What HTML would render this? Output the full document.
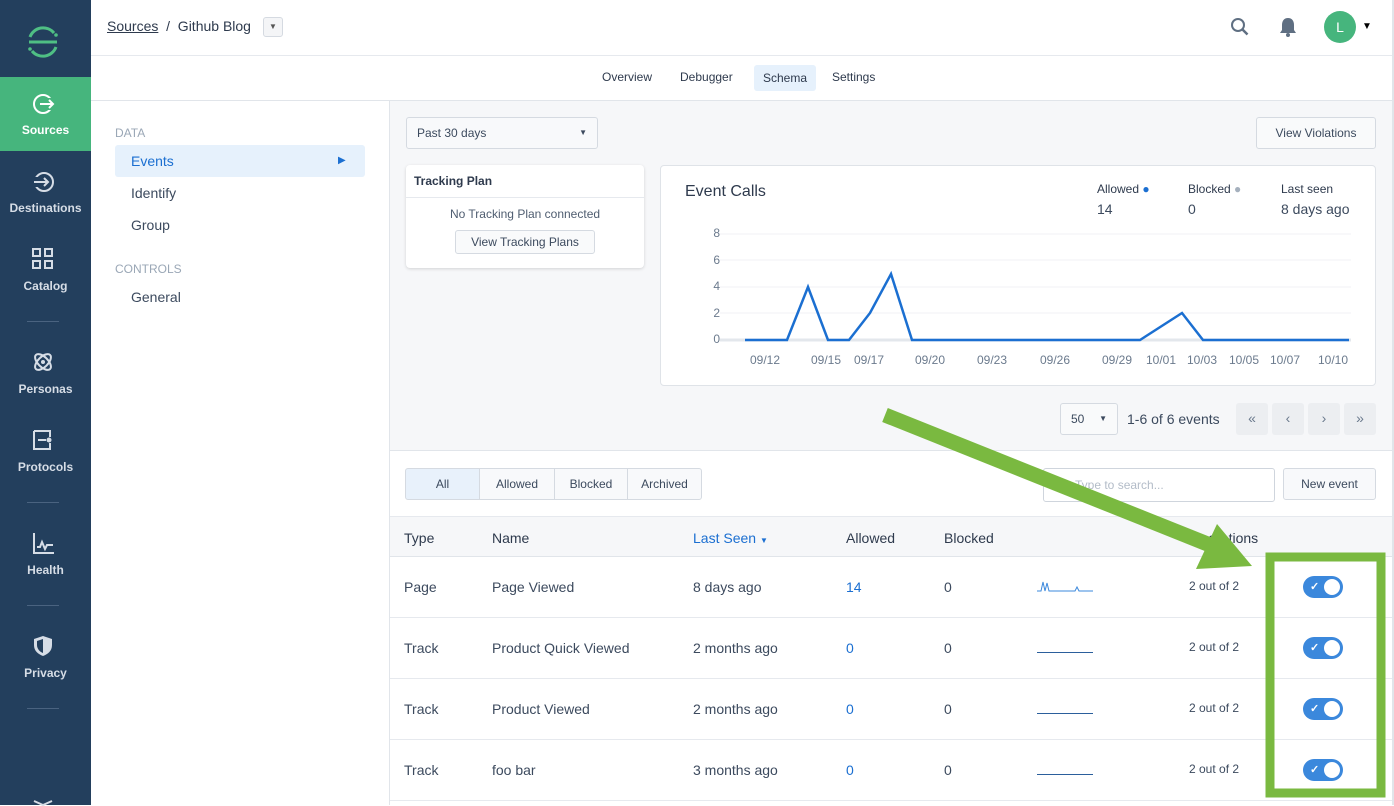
<!DOCTYPE html>
<html><head><meta charset="utf-8"><style>
*{box-sizing:border-box;margin:0;padding:0}
body{width:1394px;height:805px;overflow:hidden;position:relative;font-family:"Liberation Sans",sans-serif;color:#3c4a5e;background:#fff;font-size:14px}
.a{position:absolute}
.nav{left:0;top:0;width:91px;height:805px;background:#233f5d}
.ni{position:absolute;left:0;width:91px;text-align:center;color:#d6dde6;font-size:12px;font-weight:bold}
.sep{position:absolute;left:27px;width:32px;height:1px;background:#4a6380}
.btn{position:absolute;border:1px solid #d5dae1;border-radius:3px;background:#f8f9fb;font-size:12px;color:#3c4a5e;text-align:center}
.hd{position:absolute;top:530px;font-size:14px;color:#2e3a4d}
.row{position:absolute;left:390px;width:1002px;height:61px;border-bottom:1px solid #e6e9ee}
.row span{position:absolute;top:22px;font-size:14px;color:#3c4a5e}
.tg{position:absolute;left:913px;top:19px;width:40px;height:22px;border-radius:11px;background:#3b88dc}
.tg:after{content:"";position:absolute;right:3px;top:3px;width:16px;height:16px;border-radius:50%;background:#fff}
.tg i{position:absolute;left:7px;top:4px;color:#fff;font-style:normal;font-size:11px;font-weight:bold}
.yl{position:absolute;left:700px;font-size:12px;color:#6b7a8d;width:20px;text-align:right}
.xl{position:absolute;top:353px;font-size:12px;color:#6b7a8d}
</style></head><body>
<div class="a nav">
 <svg class="a" style="left:26px;top:25px" width="34" height="34" viewBox="0 0 34 34"><path d="M4 12 A14 14 0 0 1 28 8" stroke="#4fbf84" stroke-width="3" fill="none"/><path d="M30 22 A14 14 0 0 1 6 26" stroke="#4fbf84" stroke-width="3" fill="none"/><rect x="3" y="15.5" width="28" height="3" fill="#4fbf84"/><circle cx="30" cy="10" r="1.8" fill="#4fbf84"/><circle cx="4" cy="24" r="1.8" fill="#4fbf84"/></svg>
 <div class="a" style="left:0;top:77px;width:91px;height:74px;background:#46b57d"></div>
 <svg class="a" style="left:32px;top:92px" width="24" height="24"><circle cx="11" cy="12" r="9" stroke="#fff" stroke-width="2" fill="none"/><rect x="14" y="6" width="8" height="12" fill="#46b57d"/><path d="M8 12h13M17 8l4 4-4 4" stroke="#fff" stroke-width="2" fill="none"/></svg>
 <div class="ni" style="top:123px;color:#fff">Sources</div>
 <svg class="a" style="left:32px;top:170px" width="24" height="24"><circle cx="12" cy="12" r="9" stroke="#d6dde6" stroke-width="2" fill="none"/><rect x="0" y="7" width="6" height="10" fill="#233f5d"/><path d="M2 12h13M12 8l4 4-4 4" stroke="#d6dde6" stroke-width="2" fill="none"/></svg>
 <div class="ni" style="top:201px">Destinations</div>
 <svg class="a" style="left:32px;top:248px" width="22" height="22"><g fill="none" stroke="#d6dde6" stroke-width="2"><rect x="1" y="1" width="7" height="7"/><rect x="13" y="1" width="7" height="7"/><rect x="1" y="13" width="7" height="7"/><rect x="13" y="13" width="7" height="7"/></g></svg>
 <div class="ni" style="top:279px">Catalog</div>
 <div class="sep" style="top:321px"></div>
 <svg class="a" style="left:32px;top:351px" width="22" height="22"><g fill="none" stroke="#d6dde6" stroke-width="2"><ellipse cx="11" cy="11" rx="10" ry="5" transform="rotate(45 11 11)"/><ellipse cx="11" cy="11" rx="10" ry="5" transform="rotate(-45 11 11)"/></g><circle cx="11" cy="11" r="2" fill="#d6dde6"/></svg>
 <div class="ni" style="top:382px">Personas</div>
 <svg class="a" style="left:32px;top:429px" width="22" height="22"><path d="M2 2h16v6M2 2v18h16v-6M6 11h8" fill="none" stroke="#d6dde6" stroke-width="2"/><circle cx="17" cy="11" r="2.5" fill="#d6dde6"/></svg>
 <div class="ni" style="top:460px">Protocols</div>
 <div class="sep" style="top:502px"></div>
 <svg class="a" style="left:32px;top:532px" width="22" height="22"><path d="M2 1v20h20M5 15h3l2-5 3 7 2-4h6" fill="none" stroke="#d6dde6" stroke-width="2"/></svg>
 <div class="ni" style="top:563px">Health</div>
 <div class="sep" style="top:605px"></div>
 <svg class="a" style="left:33px;top:635px" width="20" height="22"><path d="M10 1L1 4v6c0 6 4 9 9 11 5-2 9-5 9-11V4z" fill="#d6dde6"/><path d="M10 4v14c-3-1-6-4-6-8V6z" fill="#233f5d"/></svg>
 <div class="ni" style="top:666px">Privacy</div>
 <div class="sep" style="top:708px"></div>
 <svg class="a" style="left:33px;top:800px" width="20" height="6"><path d="M1 1l9 4 9-4" stroke="#d6dde6" stroke-width="2" fill="none"/></svg>
</div>
<!-- header -->
<div class="a" style="left:107px;top:18px;font-size:14px;color:#2e3a4d"><u>Sources</u>&nbsp; / &nbsp;Github Blog</div>
<div class="a" style="left:263px;top:17px;width:20px;height:20px;border:1px solid #d5dae1;border-radius:3px;background:#f4f5f7;font-size:8px;text-align:center;line-height:18px;color:#555">▼</div>
<svg class="a" style="left:1230px;top:17px" width="20" height="20"><circle cx="8" cy="8" r="6" stroke="#5f6f82" stroke-width="2" fill="none"/><path d="M12.5 12.5l5 5" stroke="#5f6f82" stroke-width="2.5"/></svg>
<svg class="a" style="left:1279px;top:16px" width="18" height="22"><path d="M9 2c-4 0-6 3-6 7v5l-2 3h16l-2-3V9c0-4-2-7-6-7z" fill="#5f6f82"/><circle cx="9" cy="19" r="2" fill="#5f6f82"/></svg>
<div class="a" style="left:1324px;top:11px;width:32px;height:32px;border-radius:50%;background:#46b57d;color:#fff;text-align:center;line-height:32px;font-size:14px">L</div>
<div class="a" style="left:1362px;top:21px;font-size:10px;color:#000">▼</div>
<div class="a" style="left:91px;top:55px;width:1303px;height:1px;background:#e6e9ee"></div>
<div class="a" style="left:602px;top:70px;font-size:12px;color:#2e3a4d">Overview</div>
<div class="a" style="left:680px;top:70px;font-size:12px;color:#2e3a4d">Debugger</div>
<div class="a" style="left:754px;top:65px;width:62px;height:26px;background:#e6f1fc;border-radius:3px;font-size:12px;color:#2e3a4d;text-align:center;line-height:26px">Schema</div>
<div class="a" style="left:832px;top:70px;font-size:12px;color:#2e3a4d">Settings</div>
<div class="a" style="left:91px;top:100px;width:1303px;height:1px;background:#e1e5ea"></div>
<!-- left subnav -->
<div class="a" style="left:115px;top:126px;font-size:12px;color:#9aa7b6">DATA</div>
<div class="a" style="left:115px;top:145px;width:250px;height:32px;background:#e6f1fc;border-radius:3px"></div>
<div class="a" style="left:131px;top:153px;color:#1b6fd1">Events</div>
<div class="a" style="left:338px;top:155px;color:#1b6fd1;font-size:10px">▶</div>
<div class="a" style="left:131px;top:185px">Identify</div>
<div class="a" style="left:131px;top:217px">Group</div>
<div class="a" style="left:115px;top:262px;font-size:12px;color:#9aa7b6">CONTROLS</div>
<div class="a" style="left:131px;top:289px">General</div>
<div class="a" style="left:389px;top:101px;width:1px;height:704px;background:#e1e5ea"></div>
<div class="a" style="left:1392px;top:0;width:2px;height:805px;background:#e1e5ea"></div>
<!-- grey area -->
<div class="a" style="left:390px;top:101px;width:1002px;height:350px;background:#f6f7f9;border-bottom:1px solid #e1e5ea"></div>
<div class="btn" style="left:406px;top:117px;width:192px;height:32px;text-align:left;padding:8px 10px;color:#3c4a5e">Past 30 days<span style="position:absolute;right:10px;top:10px;font-size:8px">▼</span></div>
<div class="btn" style="left:1256px;top:117px;width:120px;height:32px;line-height:30px;background:#f9fafb">View Violations</div>
<div class="a" style="left:406px;top:165px;width:238px;height:103px;background:#fff;border-radius:4px;box-shadow:0 1px 3px rgba(0,0,0,.15)"></div>
<div class="a" style="left:414px;top:174px;font-size:12px;font-weight:bold;color:#2e3a4d">Tracking Plan</div>
<div class="a" style="left:406px;top:197px;width:238px;height:1px;background:#e6e9ee"></div>
<div class="a" style="left:406px;top:207px;width:238px;text-align:center;font-size:12px;color:#4f5d70">No Tracking Plan connected</div>
<div class="btn" style="left:455px;top:230px;width:140px;height:24px;line-height:22px;background:#f9fafb">View Tracking Plans</div>
<!-- chart card -->
<div class="a" style="left:660px;top:165px;width:716px;height:221px;background:#fff;border:1px solid #dfe3e8;border-radius:4px"></div>
<div class="a" style="left:685px;top:183px;font-size:16px;color:#2e3a4d">Event Calls</div>
<div class="a" style="left:1097px;top:182px;font-size:12px;color:#2e3a4d">Allowed <span style="color:#1b6fd1">●</span></div>
<div class="a" style="left:1097px;top:201px;font-size:14px">14</div>
<div class="a" style="left:1188px;top:182px;font-size:12px;color:#2e3a4d">Blocked <span style="color:#a5b0bd">●</span></div>
<div class="a" style="left:1188px;top:201px;font-size:14px">0</div>
<div class="a" style="left:1281px;top:182px;font-size:12px;color:#2e3a4d">Last seen</div>
<div class="a" style="left:1281px;top:201px;font-size:14px">8 days ago</div>
<div class="yl" style="top:226px">8</div><div class="yl" style="top:253px">6</div><div class="yl" style="top:279px">4</div><div class="yl" style="top:306px">2</div><div class="yl" style="top:332px">0</div>
<svg class="a" style="left:0;top:0" width="1394" height="400">
<g stroke="#f0f2f5"><line x1="720" y1="234" x2="1351" y2="234"/><line x1="720" y1="260" x2="1351" y2="260"/><line x1="720" y1="287" x2="1351" y2="287"/><line x1="720" y1="313" x2="1351" y2="313"/></g>
<line x1="720" y1="340" x2="1351" y2="340" stroke="#e3e7ec" stroke-width="3"/>
<polyline points="745,340 787,340 808,287 828,340 849,340 870,313 891,274 912,340 1140,340 1182,313 1203,340 1349,340" fill="none" stroke="#1b6fd1" stroke-width="2.5" stroke-linejoin="miter"/>
</svg>
<div class="xl" style="left:750px">09/12</div><div class="xl" style="left:811px">09/15</div><div class="xl" style="left:854px">09/17</div><div class="xl" style="left:915px">09/20</div><div class="xl" style="left:977px">09/23</div><div class="xl" style="left:1040px">09/26</div><div class="xl" style="left:1102px">09/29</div><div class="xl" style="left:1146px">10/01</div><div class="xl" style="left:1187px">10/03</div><div class="xl" style="left:1229px">10/05</div><div class="xl" style="left:1270px">10/07</div><div class="xl" style="left:1318px">10/10</div>
<!-- pagination -->
<div class="btn" style="left:1060px;top:403px;width:58px;height:32px;text-align:left;padding:8px 10px;background:#f9fafb">50<span style="position:absolute;right:10px;top:10px;font-size:8px">▼</span></div>
<div class="a" style="left:1127px;top:411px;font-size:14px">1-6 of 6 events</div>
<div class="a" style="left:1236px;top:403px;width:32px;height:32px;background:#eceef1;border-radius:3px;text-align:center;line-height:30px;color:#6b7a8d">«</div>
<div class="a" style="left:1272px;top:403px;width:32px;height:32px;background:#eceef1;border-radius:3px;text-align:center;line-height:30px;color:#6b7a8d">‹</div>
<div class="a" style="left:1308px;top:403px;width:32px;height:32px;background:#eceef1;border-radius:3px;text-align:center;line-height:30px;color:#6b7a8d">›</div>
<div class="a" style="left:1344px;top:403px;width:32px;height:32px;background:#eceef1;border-radius:3px;text-align:center;line-height:30px;color:#6b7a8d">»</div>
<!-- filters -->
<div class="btn" style="left:405px;top:468px;width:75px;height:32px;line-height:30px;background:#e8f1fb;border-radius:3px 0 0 3px">All</div>
<div class="btn" style="left:479px;top:468px;width:76px;height:32px;line-height:30px;border-radius:0">Allowed</div>
<div class="btn" style="left:554px;top:468px;width:74px;height:32px;line-height:30px;border-radius:0">Blocked</div>
<div class="btn" style="left:627px;top:468px;width:75px;height:32px;line-height:30px;border-radius:0 3px 3px 0">Archived</div>
<div class="a" style="left:1043px;top:468px;width:232px;height:34px;border:1px solid #cfd5dd;border-radius:3px;background:#fff"></div>
<div class="a" style="left:1075px;top:478px;font-size:12px;color:#b3bcc8">Type to search...</div>
<div class="btn" style="left:1283px;top:468px;width:93px;height:32px;line-height:30px">New event</div>
<!-- table header -->
<div class="a" style="left:390px;top:516px;width:1002px;height:41px;background:#f6f7f9;border-top:1px solid #e6e9ee;border-bottom:1px solid #e1e5ea"></div>
<div class="hd" style="left:404px">Type</div><div class="hd" style="left:492px">Name</div>
<div class="hd" style="left:693px;color:#1b6fd1">Last Seen <span style="font-size:8px">▼</span></div>
<div class="hd" style="left:846px">Allowed</div><div class="hd" style="left:944px">Blocked</div><div class="hd" style="left:1185px">Integrations</div>
<div class="row" style="top:557px"><span style="left:14px">Page</span><span style="left:102px">Page Viewed</span><span style="left:303px">8 days ago</span><span style="left:456px;color:#1b6fd1">14</span><span style="left:554px">0</span>
<svg style="position:absolute;left:647px;top:20px" width="58" height="16"><polyline points="0,14 4,14 6,5 8,14 10,6 12,14 38,14 40,10 42,14 56,14" fill="none" stroke="#3b88dc" stroke-width="1"/></svg><span style="left:799px;font-size:12px">2 out of 2</span><div class="tg"><i>✓</i></div></div>
<div class="row" style="top:618px"><span style="left:14px">Track</span><span style="left:102px">Product Quick Viewed</span><span style="left:303px">2 months ago</span><span style="left:456px;color:#1b6fd1">0</span><span style="left:554px">0</span><div style="position:absolute;left:647px;top:34px;width:56px;height:1px;background:#2b5f9c"></div><span style="left:799px;font-size:12px">2 out of 2</span><div class="tg"><i>✓</i></div></div>
<div class="row" style="top:679px"><span style="left:14px">Track</span><span style="left:102px">Product Viewed</span><span style="left:303px">2 months ago</span><span style="left:456px;color:#1b6fd1">0</span><span style="left:554px">0</span><div style="position:absolute;left:647px;top:34px;width:56px;height:1px;background:#2b5f9c"></div><span style="left:799px;font-size:12px">2 out of 2</span><div class="tg"><i>✓</i></div></div>
<div class="row" style="top:740px"><span style="left:14px">Track</span><span style="left:102px">foo bar</span><span style="left:303px">3 months ago</span><span style="left:456px;color:#1b6fd1">0</span><span style="left:554px">0</span><div style="position:absolute;left:647px;top:34px;width:56px;height:1px;background:#2b5f9c"></div><span style="left:799px;font-size:12px">2 out of 2</span><div class="tg"><i>✓</i></div></div>
<!-- annotation -->
<svg class="a" style="left:0;top:0" width="1394" height="805">
<line x1="885" y1="415" x2="1210" y2="545" stroke="#7ab940" stroke-width="15"/>
<polygon points="1196,569 1217,524 1252,566" fill="#7ab940"/>
<rect x="1270" y="557" width="111" height="236" fill="none" stroke="#7ab940" stroke-width="9"/>
</svg>
</body></html>
